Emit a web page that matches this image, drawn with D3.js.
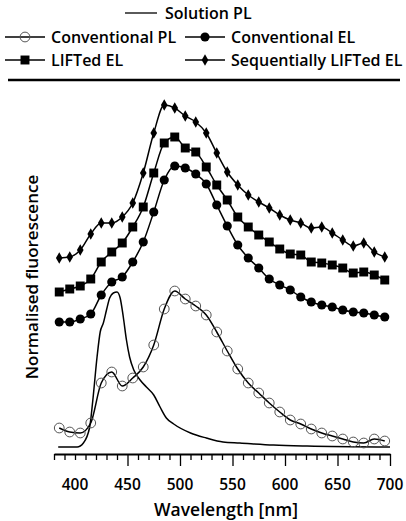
<!DOCTYPE html>
<html lang="en">
<head>
<meta charset="UTF-8">
<title>Normalised fluorescence</title>
<script src="https://d3js.org/d3.v7.min.js"></script>
<style>
  body { margin: 0; background: #fff; }
  svg text { font-family: 'Open Sans', sans-serif; font-weight: 600; fill: #000; }
</style>
</head>
<body>
<svg id="chart" width="406" height="521"></svg>
<script>
// wavelengths (nm) where the markers sit
const markerWavelength = [385, 395, 405, 415, 425, 435, 445, 455, 465, 475, 485, 495, 505, 515, 525, 535,
  545, 555, 565, 575, 585, 595, 605, 615, 625, 635, 645, 655, 665, 675, 685, 695];

// series (arbitrary units, curves are offset)
const conventionalPL = [0.19, 0.15, 0.14, 0.24, 0.64, 0.75, 0.61, 0.69, 0.80, 1.02, 1.38, 1.56, 1.48, 1.41, 1.32, 1.15,
  0.96, 0.78, 0.64, 0.54, 0.44, 0.35, 0.27, 0.23, 0.18, 0.14, 0.11, 0.08, 0.05, 0.04, 0.08, 0.06];
const conventionalEL = [1.25, 1.25, 1.28, 1.33, 1.52, 1.65, 1.70, 1.85, 2.05, 2.35, 2.67, 2.81, 2.79, 2.73, 2.63, 2.42,
  2.21, 2.02, 1.89, 1.79, 1.68, 1.62, 1.57, 1.50, 1.45, 1.42, 1.40, 1.37, 1.35, 1.34, 1.32, 1.30];
const liftedEL = [1.55, 1.58, 1.61, 1.68, 1.85, 1.95, 2.04, 2.20, 2.40, 2.74, 3.04, 3.10, 2.99, 2.95, 2.80, 2.62,
  2.47, 2.30, 2.20, 2.12, 2.05, 1.98, 1.93, 1.92, 1.85, 1.84, 1.82, 1.79, 1.74, 1.75, 1.72, 1.67];
const sequentialEL = [1.89, 1.90, 1.97, 2.13, 2.24, 2.24, 2.30, 2.44, 2.74, 3.14, 3.42, 3.39, 3.31, 3.25, 3.14, 2.94,
  2.75, 2.62, 2.52, 2.45, 2.39, 2.32, 2.27, 2.24, 2.19, 2.20, 2.14, 2.07, 2.01, 2.04, 1.95, 1.90];

const solutionWavelength = [384, 402, 408, 414, 417, 421, 424, 427, 430, 433, 436.5, 440, 443, 446, 449, 452,
  456, 462, 468, 475, 481, 487, 494, 510, 525, 541, 557, 589, 621, 700];
const solutionPL = [0, 0, 0.04, 0.20, 0.47, 0.90, 1.15, 1.24, 1.37, 1.49, 1.54, 1.55, 1.49, 1.30, 1.07, 0.90,
  0.77, 0.67, 0.60, 0.52, 0.40, 0.29, 0.23, 0.14, 0.09, 0.05, 0.04, 0.02, 0.01, 0];

const xLabels = [400, 450, 500, 550, 600, 650, 700];

const svg = d3.select("#chart");

const x = d3.scaleLinear().domain([400, 700]).range([75, 390]);
const y = d3.scaleLinear().domain([0, 3.5]).range([447, 97]);

const line = d3.line()
  .x(d => x(d[0]))
  .y(d => y(d[1]))
  .curve(d3.curveMonotoneX);

const series = [
  { name: "Conventional PL", values: conventionalPL, symbol: d3.symbolCircle, size: 75, fill: "none" },
  { name: "Conventional EL", values: conventionalEL, symbol: d3.symbolCircle, size: 66, fill: "#000" },
  { name: "LIFTed EL", values: liftedEL, symbol: d3.symbolSquare, size: 80, fill: "#000" },
  { name: "Sequentially LIFTed EL", values: sequentialEL, symbol: d3.symbolDiamond, size: 38, fill: "#000" }
];

// solution PL, plain line
svg.append("path")
  .datum(solutionWavelength.map((w, i) => [w, solutionPL[i]]))
  .attr("d", line)
  .attr("fill", "none")
  .attr("stroke", "#000")
  .attr("stroke-width", 1.5);

series.forEach(s => {
  const pts = markerWavelength.map((w, i) => [w, s.values[i]]);
  svg.append("path")
    .datum(pts)
    .attr("d", line)
    .attr("fill", "none")
    .attr("stroke", "#000")
    .attr("stroke-width", 1.5);

  svg.append("g").selectAll("path")
    .data(pts)
    .join("path")
    .attr("transform", d => `translate(${x(d[0])},${y(d[1])})`)
    .attr("d", d3.symbol().type(s.symbol).size(s.size))
    .attr("fill", s.fill)
    .attr("stroke", s.fill === "none" ? "#555" : "none")
    .attr("stroke-width", 1);
});

// x axis
const axisScale = x.copy().domain([380, 700]).range([x(380), x(700)]);
const axisG = svg.append("g")
  .attr("transform", "translate(0,454)")
  .call(d3.axisBottom(axisScale)
    .tickValues(d3.range(380, 701, 10))
    .tickSize(6)
    .tickSizeOuter(0)
    .tickFormat(""));
axisG.select(".domain").attr("stroke", "#000").attr("stroke-width", 2);
axisG.selectAll(".tick line")
  .attr("stroke", "#000")
  .attr("stroke-width", 1.3)
  .attr("y2", d => (d % 50 === 0 && d > 400) ? 12 : 6);

svg.append("g").selectAll("text")
  .data(xLabels)
  .join("text")
  .attr("x", d => x(d))
  .attr("y", 490)
  .attr("text-anchor", "middle")
  .attr("font-size", 15.5)
  .text(d => d);

svg.append("text")
  .attr("x", 226)
  .attr("y", 516)
  .attr("text-anchor", "middle")
  .attr("font-size", 17.5)
  .text("Wavelength [nm]");

svg.append("text")
  .attr("transform", "translate(38,277) rotate(-90)")
  .attr("text-anchor", "middle")
  .attr("font-size", 17)
  .text("Normalised fluorescence");

// legend
const legend = svg.append("g");
legend.append("line")
  .attr("x1", 125).attr("x2", 157).attr("y1", 13).attr("y2", 13)
  .attr("stroke", "#000").attr("stroke-width", 1.3);
legend.append("text").attr("x", 165).attr("y", 19).attr("font-size", 16).text("Solution PL");

const legendPos = [
  { x: 5, y: 37 }, { x: 185, y: 37 },
  { x: 5, y: 60 }, { x: 185, y: 60 }
];
series.forEach((s, i) => {
  const p = legendPos[i];
  legend.append("line")
    .attr("x1", p.x).attr("x2", p.x + 40).attr("y1", p.y).attr("y2", p.y)
    .attr("stroke", "#000").attr("stroke-width", 1.3);
  legend.append("path")
    .attr("transform", `translate(${p.x + 20},${p.y})`)
    .attr("d", d3.symbol().type(s.symbol).size(s.size))
    .attr("fill", s.fill)
    .attr("stroke", s.fill === "none" ? "#555" : "none");
  legend.append("text")
    .attr("x", p.x + 46)
    .attr("y", p.y + 6)
    .attr("font-size", 16)
    .text(s.name);
});

legend.append("line")
  .attr("x1", 8).attr("x2", 400).attr("y1", 80).attr("y2", 80)
  .attr("stroke", "#000").attr("stroke-width", 2.5);
</script>
</body>
</html>
